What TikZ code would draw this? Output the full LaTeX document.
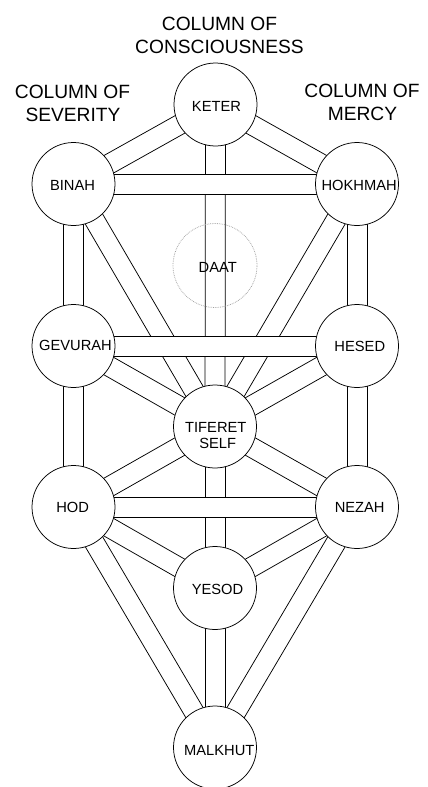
\documentclass[tikz,border=0pt]{standalone}
\usepackage{fontspec}
\setmainfont{Liberation Sans}
\usetikzlibrary{backgrounds,calc}
\newcommand\sefchannel[2]{%
  \fill[white] ($(#1.center)!10pt!90:(#2.center)$) -- ($(#2.center)!10pt!-90:(#1.center)$)
     -- ($(#2.center)!10pt!90:(#1.center)$) -- ($(#1.center)!10pt!-90:(#2.center)$) -- cycle;
  \draw[channelline] ($(#1.center)!10pt!90:(#2.center)$) -- ($(#2.center)!10pt!-90:(#1.center)$);
  \draw[channelline] ($(#1.center)!10pt!-90:(#2.center)$) -- ($(#2.center)!10pt!90:(#1.center)$);
}
\begin{document}
\begin{tikzpicture}[x=1pt,y=-1pt,
  sefira/.style={circle, draw, fill=white, line width=0.75pt, minimum size=83pt, inner sep=0pt},
  daatcircle/.style={circle, draw=gray!75, densely dotted, line width=0.75pt, minimum size=84pt, inner sep=0pt},
  channelline/.style={draw=black, line width=0.75pt},
  lbl/.style={font=\fontsize{14.7}{16.3}\selectfont, anchor=base, inner sep=0pt},
  col/.style={font=\fontsize{19.2}{23.5}\selectfont, anchor=base, inner sep=0pt}]
\useasboundingbox (0,0) rectangle (428,787);

% column titles
\node[col] (c1a) at (219.5,30) {COLUMN OF};
\node[col] (c1b) at (219.5,53.3) {CONSCIOUSNESS};
\node[col] (c2a) at (72.5,98) {COLUMN OF};
\node[col] (c2b) at (73,121.7) {SEVERITY};
\node[col] (c3a) at (362,97.3) {COLUMN OF};
\node[col] (c3b) at (362.5,120.7) {MERCY};

% sefirot
\node[sefira] (keter)   at (215.5,104.5) {};
\node[sefira] (binah)   at (73.5,184) {};
\node[sefira] (hokhmah) at (357,184) {};
\node[daatcircle] (daat) at (215,265.5) {};
\node[sefira] (gevurah) at (73.5,346) {};
\node[sefira] (hesed)   at (357,346) {};
\node[sefira] (tiferet) at (215,426.5) {};
\node[sefira] (hod)     at (73.5,507) {};
\node[sefira] (nezah)   at (357,507) {};
\node[sefira] (yesod)   at (215,588) {};
\node[sefira] (malkhut) at (215,747.5) {};

% labels
\node[lbl] (tketer)   at (216.5,111) {KETER};
\node[lbl] (tbinah)   at (72.5,190.7) {BINAH};
\node[lbl] (thokhmah) at (359.2,190.7) {HOKHMAH};
\node[lbl] (tdaat)    at (217.8,272.3) {DAAT};
\node[lbl] (tgevurah) at (75.5,350.7) {GEVURAH};
\node[lbl] (thesed)   at (359.8,351) {HESED};
\node[lbl] (ttiferet) at (215.8,432.3) {TIFERET};
\node[lbl] (tself)    at (217.7,448.3) {SELF};
\node[lbl] (thod)     at (72.7,512) {HOD};
\node[lbl] (tnezah)   at (359.7,512) {NEZAH};
\node[lbl] (tyesod)   at (217.5,594) {YESOD};
\node[lbl] (tmalkhut) at (219.3,755) {MALKHUT};

% channels
\begin{pgfonlayer}{background}
\sefchannel{keter}{binah}
\sefchannel{keter}{hokhmah}
\sefchannel{keter}{tiferet}
\sefchannel{binah}{gevurah}
\sefchannel{binah}{tiferet}
\sefchannel{hokhmah}{hesed}
\sefchannel{hokhmah}{tiferet}
\sefchannel{gevurah}{tiferet}
\sefchannel{gevurah}{hod}
\sefchannel{hesed}{tiferet}
\sefchannel{hesed}{nezah}
\sefchannel{tiferet}{hod}
\sefchannel{tiferet}{nezah}
\sefchannel{tiferet}{yesod}
\sefchannel{hod}{yesod}
\sefchannel{nezah}{yesod}
\sefchannel{hod}{malkhut}
\sefchannel{nezah}{malkhut}
\sefchannel{yesod}{malkhut}
\sefchannel{binah}{hokhmah}
\sefchannel{gevurah}{hesed}
\sefchannel{hod}{nezah}
\end{pgfonlayer}
\end{tikzpicture}
\end{document}
